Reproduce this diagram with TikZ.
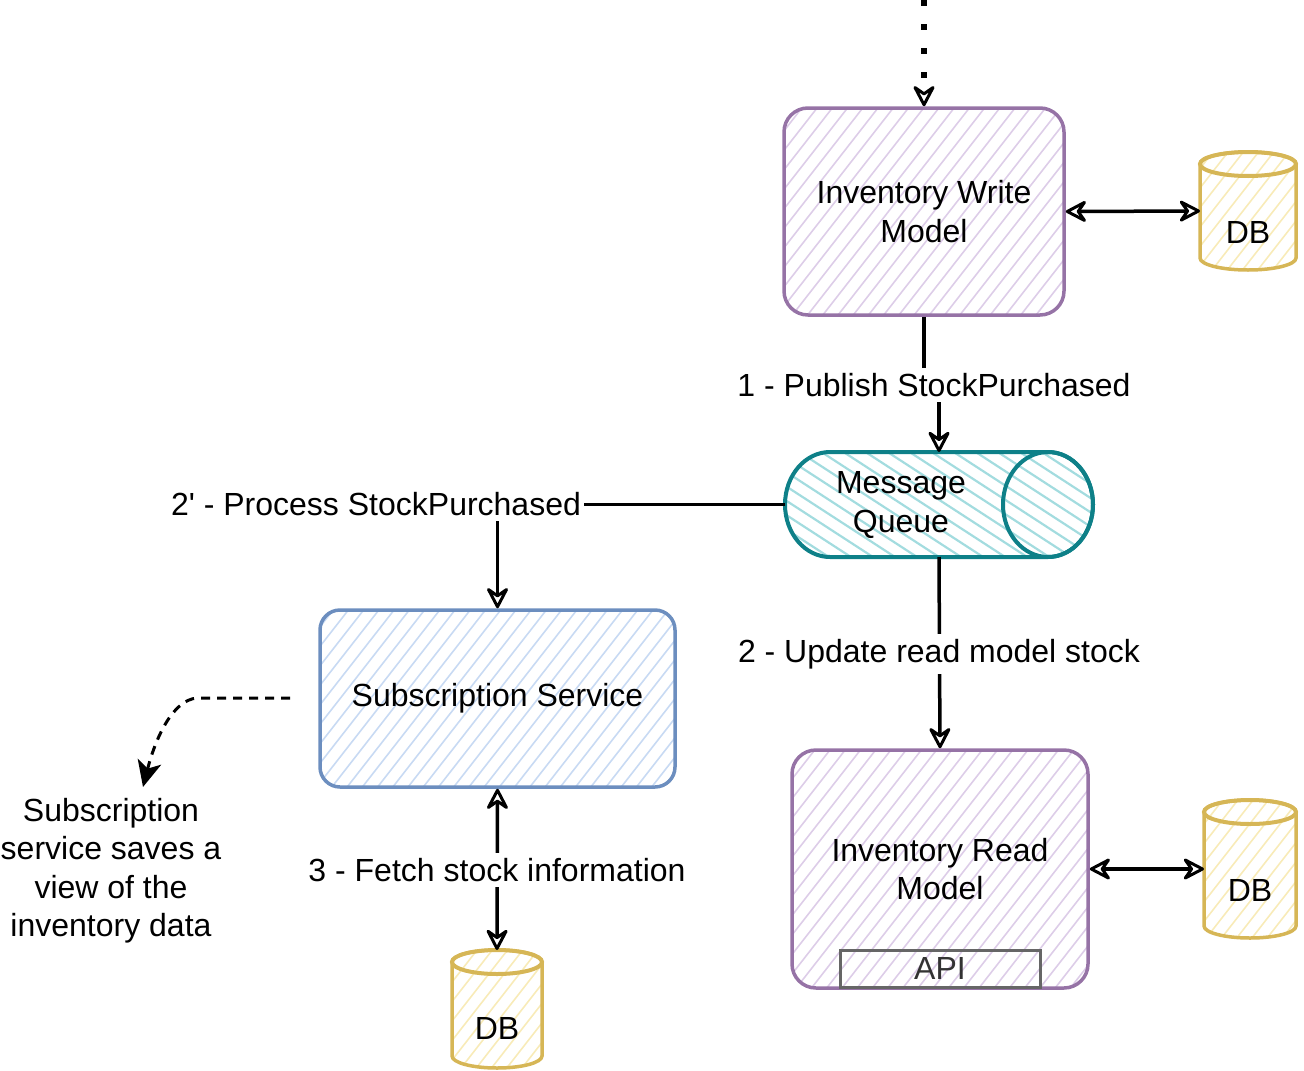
\documentclass[tikz,border=0pt]{standalone}
\usepackage{fontspec}
\setmainfont{Liberation Sans}
\usetikzlibrary{arrows.meta}
\definecolor{purp}{HTML}{9673A6}
\definecolor{purpH}{HTML}{DDCDE8}
\definecolor{teal2}{HTML}{0E8088}
\definecolor{tealH}{HTML}{A3DCDF}
\definecolor{blu}{HTML}{6C8EBF}
\definecolor{bluH}{HTML}{C8DAF3}
\definecolor{yel}{HTML}{D6B656}
\definecolor{yelH}{HTML}{F8EBB8}
\definecolor{gry}{HTML}{666666}
\definecolor{txtgray}{HTML}{333333}

\newcommand\hatchat[5]{%
  \begin{scope}[shift={(#1,#2)},rotate=#4]
    \foreach \k in {-220,-208,...,220}{\draw[#3,line width=#5] (-260,\k) -- (260,\k);}
  \end{scope}}
\newcommand\hatchbox[7]{% x1 y1 x2 y2 radius color angle
  \begin{scope}
    \clip[rounded corners=#5pt] (#1,#2) rectangle (#3,#4);
    \pgfmathsetmacro\hbx{(#1+#3)/2}\pgfmathsetmacro\hby{(#2+#4)/2}%
    \hatchat{\hbx}{\hby}{#6}{#7}{1.6pt}
  \end{scope}}
\newcommand\dbcyl[6]{%
  \pgfmathsetmacro\cxa{#2-#5}\pgfmathsetmacro\cxb{#2+#5}%
  \pgfmathsetmacro\cya{#3+12}\pgfmathsetmacro\cyb{#4-12}%
  \pgfmathsetmacro\cym{(#3+#4)/2}\pgfmathsetmacro\cw{2*#5}\pgfmathsetmacro\ch{#4-#3}%
  \node[ghost,minimum width=\cw pt,minimum height=\ch pt] (#1) at (#2,\cym) {};
  \begin{scope}
    \clip (\cxa,\cya) -- (\cxa,\cyb) arc[start angle=180,end angle=360,x radius=#5pt,y radius=12pt]
      -- (\cxb,\cya) arc[start angle=0,end angle=180,x radius=#5pt,y radius=12pt] -- cycle;
    \hatchat{#2}{\cym}{yelH}{52}{1.6pt}
  \end{scope}
  \draw[yel,line width=3.5pt] (\cxa,\cya) -- (\cxa,\cyb) arc[start angle=180,end angle=360,x radius=#5pt,y radius=12pt]
      -- (\cxb,\cya) arc[start angle=0,end angle=180,x radius=#5pt,y radius=12pt] -- cycle;
  \draw[yel,line width=4pt] (#2,\cya) ellipse[x radius=#5pt,y radius=12pt];
  \node at (#2,#6) {DB};
}

\begin{document}
\begin{tikzpicture}[x=1pt,y=-1pt,
  font=\fontsize{32}{38.5}\selectfont,
  oarrow/.tip={Stealth[open,length=25pt,width=26pt,inset=9pt,line width=3pt,round]},
  conn/.style={line width=3.5pt,black},
  lbl/.style={fill=white,inner xsep=3pt,inner ysep=5pt},
  box/.style={draw,line width=3.5pt,rounded corners=24pt,inner sep=0pt,align=center},
  ghost/.style={inner sep=0pt,outer sep=0pt}
]
\useasboundingbox (0,0) rectangle (1304,1071);

% hatching of the boxes
\hatchbox{784}{108}{1064}{315}{24}{purpH}{52}
\hatchbox{320}{610}{675}{787}{20}{bluH}{52}
\hatchbox{792}{750}{1088}{988}{24}{purpH}{52}

% boxes
\node[box,draw=purp,minimum width=280pt,minimum height=207pt] (wm) at (924,211.5) {Inventory Write\\Model};
\node[box,draw=blu,rounded corners=20pt,minimum width=355pt,minimum height=177pt] (sub) at (497.5,698.5) {Subscription Service};
\node[box,draw=purp,minimum width=296pt,minimum height=238pt] (rm) at (940,869) {Inventory Read\\Model};
\node[draw=gry,line width=3pt,minimum width=200pt,minimum height=37pt,inner sep=0pt,text=txtgray] (api) at (940,968.5) {API};

% databases
\dbcyl{db1}{1248}{152}{270}{48}{232}
\dbcyl{db2}{1250}{800}{938}{46}{890}
\dbcyl{db3}{497}{950}{1068}{45}{1028}

% message queue
\node[ghost,minimum width=308pt,minimum height=105pt] (mq) at (939,504.5) {};
\begin{scope}
  \clip (830,452) -- (1048,452) arc[start angle=90,end angle=-90,x radius=45pt,y radius=52.5pt]
    -- (830,557) arc[start angle=270,end angle=90,x radius=45pt,y radius=52.5pt] -- cycle;
  \hatchat{939}{504.5}{tealH}{-33}{2.2pt}
\end{scope}
\draw[teal2,line width=4pt] (830,452) -- (1048,452) arc[start angle=90,end angle=-90,x radius=45pt,y radius=52.5pt]
    -- (830,557) arc[start angle=270,end angle=90,x radius=45pt,y radius=52.5pt] -- cycle;
\draw[teal2,line width=4pt] (1048,504.5) ellipse[x radius=45pt,y radius=52.5pt];
\node[align=center] (mqt) at (901,505) {Message\\Queue};

% connectors
\coordinate (topin) at (924,0);
\coordinate (dstart) at (290,698);
\coordinate (dend) at (143,787);
\draw[conn,line width=6pt,dash pattern=on 6pt off 18pt,-oarrow] (topin) -- (wm.north);
\draw[conn,oarrow-oarrow] (wm.east) -- (db1.west);
\draw[conn,-oarrow] (wm.south) -- ++(0,70) -| (mq.north);
\draw[conn,-oarrow] (mq.south) -- (rm.north);
\draw[conn,-oarrow] (mq.west) -| (sub.north);
\draw[conn,oarrow-oarrow] (sub.south) -- (db3.north);
\draw[conn,oarrow-oarrow] (rm.east) -- (db2.west);
\draw[conn,line width=3pt,dash pattern=on 9pt off 7pt,-{Stealth[length=26pt,width=24pt,inset=7pt]}]
  (dstart) -- (197,698) .. controls (172,700) and (155,740) .. (dend);

% labels
\node[lbl] (l1) at (934,385) {1 - Publish StockPurchased};
\node[lbl] (l2p) at (376,504) {2\textquotesingle{} - Process StockPurchased};
\node[lbl] (l2) at (939,654) {2 - Update read model stock};
\node[lbl] (l3) at (497,870) {3 - Fetch stock information};
\node[align=center] (note) at (111,870.5) {Subscription\\service saves a\\view of the\\inventory data};
\end{tikzpicture}
\end{document}
